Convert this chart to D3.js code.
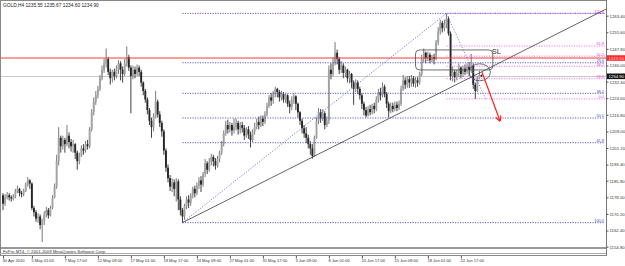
<!DOCTYPE html>
<html>
<head>
<meta charset="utf-8">
<script src="https://cdn.jsdelivr.net/npm/d3@7"></script>
<style>
body { margin: 0; background: #fff; }
text { font-family: "Liberation Sans", Arial, sans-serif; }
</style>
</head>
<body>
<svg id="chart" width="625" height="266"></svg>
<script>
const width = 625;
const height = 266;

// GOLD H4, 30 Apr 2010 17:00 onwards; open of each bar = previous close
const firstOpen = 1179;
const closes = [
	1175, 1178, 1179, 1178, 1177.5, 1178.5, 1181, 1182, 1180, 1179.5,
	1181, 1184, 1186, 1184.5, 1173, 1171, 1168, 1169, 1165, 1167,
	1170, 1172, 1169.5, 1173, 1178, 1183, 1195, 1206, 1202, 1205,
	1203, 1207, 1204, 1202, 1203, 1199, 1195, 1198, 1201, 1200,
	1203, 1202, 1210, 1218, 1223, 1226, 1229, 1234, 1238, 1241,
	1243, 1237, 1234, 1237, 1235, 1238, 1241, 1238, 1236, 1241,
	1244, 1239, 1235, 1238, 1236, 1239, 1237, 1232, 1228, 1224,
	1219, 1214, 1211, 1216, 1223, 1217, 1213, 1209, 1200, 1192,
	1187, 1183, 1185, 1182, 1185.5, 1177, 1172, 1169, 1174, 1177,
	1175.5, 1179, 1182, 1180, 1183.5, 1186, 1184, 1189, 1194, 1191,
	1194.5, 1197, 1195, 1193, 1196, 1199, 1203, 1208, 1212, 1210,
	1212, 1209.5, 1211, 1213, 1210, 1212, 1210.5, 1207, 1210, 1207.5,
	1205, 1209, 1211, 1213.5, 1212, 1215, 1213.5, 1217, 1221, 1225,
	1223.5, 1226.5, 1229, 1227.5, 1225, 1226.5, 1224, 1226, 1222, 1220.5,
	1224, 1225.5, 1222, 1218, 1214, 1210.5, 1208, 1206, 1203, 1201,
	1197.5, 1206, 1214, 1218, 1215, 1217.5, 1212, 1214, 1238, 1236,
	1241, 1246, 1243, 1238, 1240, 1236.5, 1238, 1234, 1236, 1232,
	1229, 1232, 1229, 1226, 1222, 1219, 1216.5, 1219.5, 1218, 1221,
	1219.5, 1224, 1227.5, 1226, 1230, 1226.5, 1222, 1218.5, 1221, 1219.5,
	1221.5, 1220, 1222, 1229, 1233, 1231, 1233.5, 1232, 1234, 1231.5,
	1233, 1232, 1236, 1243, 1246, 1243.5, 1245, 1242.5, 1244, 1243,
	1251, 1256, 1260, 1257.5, 1259.5, 1262, 1255, 1235, 1237, 1234.5,
	1236.5, 1239, 1236, 1238.5, 1237, 1239.5, 1238, 1240, 1231, 1228,
	1234, 1235.55, 1234.90
];
const highs = [
	1180, 1179.5, 1180.5, 1180, 1179, 1179.5, 1182, 1183.5, 1182.5, 1181,
	1182, 1185, 1187.5, 1186.5, 1185, 1174, 1172, 1170.5, 1170, 1168,
	1171.5, 1173.5, 1173, 1174, 1179, 1184.5, 1198, 1211, 1207, 1207,
	1206, 1212, 1208.5, 1205.5, 1205, 1203.5, 1200, 1199, 1202.5, 1203,
	1204.5, 1205, 1211, 1219.5, 1225, 1228, 1230.5, 1235.5, 1240, 1243,
	1248, 1244, 1238.5, 1238, 1238.5, 1240, 1242.5, 1242, 1239.5, 1243,
	1249, 1245, 1240, 1240, 1239.5, 1240.5, 1240, 1238, 1232.5, 1229,
	1225, 1220, 1215.5, 1217.5, 1228, 1224, 1218.5, 1214, 1210, 1201,
	1193.5, 1188.5, 1187, 1186.5, 1187, 1186.5, 1178.5, 1173, 1175, 1178.5,
	1179, 1180, 1183, 1183.5, 1185, 1187.5, 1188, 1190, 1196, 1195,
	1196.5, 1198.5, 1198, 1196.5, 1197.5, 1200, 1204.5, 1209.5, 1214, 1214.5,
	1213.5, 1213, 1215, 1215, 1214, 1213.5, 1213.5, 1212, 1211, 1211.5,
	1209, 1210, 1213, 1215, 1216, 1216.5, 1216.5, 1218.5, 1222.5, 1226,
	1227, 1228, 1230, 1229.5, 1228.5, 1228, 1227.5, 1227, 1226.5, 1223.5,
	1225.5, 1227, 1226, 1222.5, 1218.5, 1215, 1212, 1211, 1207.5, 1204.5,
	1203, 1207, 1215.5, 1220, 1219.5, 1219.5, 1218.5, 1216, 1240, 1241,
	1244, 1251, 1247.5, 1244, 1242, 1241, 1239.5, 1238.5, 1237.5, 1236.5,
	1233, 1233.5, 1233, 1230, 1227, 1223, 1220.5, 1221, 1221.5, 1222,
	1222.5, 1225.5, 1229, 1229.5, 1232, 1231, 1227.5, 1223, 1222.5, 1222.5,
	1223, 1223, 1223.5, 1230.5, 1235.5, 1234.5, 1235, 1235, 1235.5, 1235,
	1234.5, 1234.5, 1237, 1245, 1248, 1246.5, 1246.5, 1246, 1245, 1245.5,
	1252, 1258, 1261.5, 1261, 1261.5, 1264.5, 1263, 1256, 1239.5, 1238,
	1238, 1241, 1239.5, 1240, 1240.5, 1241, 1241.5, 1245.5, 1241, 1232,
	1235, 1237.5, 1235.67
];
const lows = [
	1172, 1174, 1177, 1176.5, 1176, 1176.5, 1177.5, 1180, 1178.5, 1178,
	1178.5, 1180.5, 1183, 1182, 1172, 1169, 1166.5, 1166, 1163, 1157,
	1165, 1168.5, 1168, 1169, 1172.5, 1177.5, 1182, 1193, 1199, 1200.5,
	1199, 1202, 1201, 1199.5, 1199, 1196, 1191, 1193.5, 1197, 1198,
	1199, 1200.5, 1201, 1209, 1216.5, 1221.5, 1224.5, 1228, 1233, 1236.5,
	1239, 1235.5, 1231, 1232, 1233, 1234, 1236, 1233, 1232, 1235,
	1239.5, 1237.5, 1217.5, 1233.5, 1234, 1235, 1235, 1230, 1226, 1222.5,
	1217, 1212, 1206, 1209, 1215, 1215.5, 1211, 1206.5, 1198, 1190,
	1185, 1181, 1180.5, 1178.5, 1176, 1172, 1169.5, 1166.1, 1167.5, 1172.5,
	1173, 1174, 1177.5, 1178, 1179, 1182, 1180.5, 1183, 1187.5, 1189,
	1190, 1193, 1192.5, 1191, 1192, 1194.5, 1198, 1202, 1207, 1208,
	1208.5, 1207, 1208, 1209.5, 1207.5, 1208, 1208.5, 1205, 1206, 1205.5,
	1201.5, 1204, 1207.5, 1210, 1210, 1211, 1211.5, 1212.5, 1216, 1220,
	1221, 1222, 1225, 1225, 1223, 1223.5, 1222.5, 1222.5, 1220.5, 1217.5,
	1219, 1222, 1219, 1215.5, 1212, 1208, 1206, 1203.5, 1201, 1198,
	1196.2, 1197, 1205.5, 1212.5, 1213, 1214, 1210, 1211, 1212.5, 1233.5,
	1235, 1240, 1240.5, 1236, 1236.5, 1234, 1234.5, 1232, 1231.5, 1229.5,
	1221.5, 1227.5, 1226.5, 1224, 1219.5, 1216.5, 1215.5, 1216, 1216.5, 1217,
	1217.5, 1218.5, 1222.5, 1223.5, 1225, 1225, 1220, 1215.5, 1217.5, 1218,
	1218.5, 1218.5, 1219, 1221, 1228, 1229, 1229.5, 1229.5, 1230, 1230,
	1229.5, 1230, 1231, 1235, 1241.5, 1241, 1242, 1241, 1241.5, 1240.5,
	1242.5, 1249.5, 1254.5, 1255.5, 1256, 1257.5, 1254, 1233, 1232.5, 1232,
	1233, 1234.5, 1234, 1234.5, 1235.5, 1236, 1235, 1236.5, 1229, 1224.3,
	1227.5, 1233.5, 1234.60
];

const priceTicks = [1263.40, 1255.60, 1247.80, 1240.00, 1232.40, 1224.60, 1216.80,
	1209.00, 1201.20, 1193.40, 1185.80, 1178.00, 1170.20, 1162.40, 1154.80];
const timeTickBars = [0, 14, 30, 46, 62, 78, 94, 110, 126, 142, 158, 174, 190, 206, 222];
const timeTickLabels = ["30 Apr 2010", "5 May 01:00", "7 May 17:00", "12 May 09:00",
	"17 May 01:00", "19 May 17:00", "24 May 09:00", "27 May 01:00", "31 May 17:00",
	"3 Jun 09:00", "8 Jun 01:00", "10 Jun 17:00", "15 Jun 09:00", "18 Jun 01:00", "22 Jun 17:00"];

// objects drawn on the chart (bar index, price)
const fibLevels = [0, 23.6, 38.2, 50, 61.8, 100];
const fibLabels = ["0.0", "23.6", "38.2", "50.0", "61.8", "100.0"];
const blueFib = { startBar: 87, endBar: 215, price0: 1264.5, price100: 1166.1 };
const pinkFib = { startBar: 215, endBar: 234, price0: 1224.3, price100: 1264.5 };
const trendLine = [[87, 1166.1], [293, 1266.8]];
const resistancePrice = 1243.50;
const bidPrice = 1234.90;
const slBox = { bar0: 200, bar1: 237.5, priceTop: 1247.3, priceBottom: 1237.9 };
const circleMark = { bar0: 226, bar1: 236.3, priceTop: 1240.8, priceBottom: 1232.8 };
const arrowLine = [[232.2, 1236.9], [241, 1213.9]];

const plot = { left: 1, right: 606, top: 1, bottom: 247 };

const svg = d3.select("#chart")
	.attr("viewBox", `0 0 ${width} ${height}`);

svg.append("rect").attr("width", width).attr("height", height).attr("fill", "#fff");

const x = d3.scaleLinear()
	.domain([0, 293])
	.range([3, 3 + 293 * 2.0625]);

const y = d3.scaleLinear()
	.domain([1154.8, 1263.4])
	.range([246.7, 15.7]);

svg.append("defs").append("clipPath")
	.attr("id", "plot-clip")
	.append("rect")
	.attr("x", plot.left)
	.attr("y", plot.top)
	.attr("width", plot.right - plot.left)
	.attr("height", plot.bottom - plot.top);

const bars = closes.map((c, i) => ({
	i,
	open: i === 0 ? firstOpen : closes[i - 1],
	close: c,
	high: highs[i],
	low: lows[i]
}));

const chart = svg.append("g").attr("clip-path", "url(#plot-clip)");

// bid line
chart.append("line")
	.attr("x1", plot.left).attr("x2", plot.right)
	.attr("y1", Math.round(y(bidPrice)) + 0.5).attr("y2", Math.round(y(bidPrice)) + 0.5)
	.attr("stroke", "#c8c8c8")
	.attr("stroke-width", 1);

// candles
const candle = chart.append("g").selectAll("g")
	.data(bars)
	.join("g");

candle.append("line")
	.attr("x1", (d) => x(d.i)).attr("x2", (d) => x(d.i))
	.attr("y1", (d) => y(d.high)).attr("y2", (d) => y(d.low))
	.attr("stroke", (d) => d.close >= d.open ? "#6a6a6a" : "#2a2a2a")
	.attr("stroke-width", 0.9);

candle.append("rect")
	.attr("x", (d) => x(d.i) - 0.95)
	.attr("width", 1.9)
	.attr("y", (d) => y(Math.max(d.open, d.close)))
	.attr("height", (d) => Math.max(0.9, Math.abs(y(d.open) - y(d.close))))
	.attr("fill", (d) => d.close >= d.open ? "#a2a2a2" : "#262626");

// red horizontal line
chart.append("line")
	.attr("x1", plot.left).attr("x2", plot.right)
	.attr("y1", y(resistancePrice)).attr("y2", y(resistancePrice))
	.attr("stroke", "#ff3a3a")
	.attr("stroke-width", 1);

function drawFib(fib, lineColor, diagColor, labelColor, hiddenLabels) {
	const g = chart.append("g");
	const levelPrice = (lvl) => fib.price0 + (fib.price100 - fib.price0) * lvl / 100;
	const lowBar = fib.price100 < fib.price0 ? fib.startBar : fib.endBar;
	const highBar = lowBar === fib.startBar ? fib.endBar : fib.startBar;

	g.append("line")
		.attr("x1", x(lowBar)).attr("y1", y(Math.min(fib.price0, fib.price100)))
		.attr("x2", x(highBar)).attr("y2", y(Math.max(fib.price0, fib.price100)))
		.attr("stroke", diagColor)
		.attr("stroke-width", 0.9)
		.attr("stroke-dasharray", "1.2,1.6");

	g.selectAll(".lvl")
		.data(fibLevels)
		.join("line")
		.attr("x1", x(Math.min(fib.startBar, fib.endBar)))
		.attr("x2", plot.right - 1)
		.attr("y1", (d) => y(levelPrice(d)))
		.attr("y2", (d) => y(levelPrice(d)))
		.attr("stroke", lineColor)
		.attr("stroke-width", 0.9)
		.attr("stroke-dasharray", "1.2,1.3");

	g.selectAll("text")
		.data(fibLevels.filter((d) => !hiddenLabels.includes(d)))
		.join("text")
		.attr("x", 604)
		.attr("y", (d) => y(levelPrice(d)) - 0.6)
		.attr("text-anchor", "end")
		.attr("font-size", 3.9)
		.attr("fill", labelColor)
		.text((d) => fibLabels[fibLevels.indexOf(d)]);
}

// the blue 0.0 label sits under the pink 100.0 one
drawFib(blueFib, "#4a4ab8", "#6a6ad8", "#4a4ab8", [0]);
drawFib(pinkFib, "#ec6cec", "#7a7ad8", "#d84cd8", []);

// trend line
chart.append("line")
	.attr("x1", x(trendLine[0][0])).attr("y1", y(trendLine[0][1]))
	.attr("x2", x(trendLine[1][0])).attr("y2", y(trendLine[1][1]))
	.attr("stroke", "#3c3c3c")
	.attr("stroke-width", 0.8);

// SL box
chart.append("rect")
	.attr("x", x(slBox.bar0))
	.attr("y", y(slBox.priceTop))
	.attr("width", x(slBox.bar1) - x(slBox.bar0))
	.attr("height", y(slBox.priceBottom) - y(slBox.priceTop))
	.attr("rx", 4)
	.attr("fill", "none")
	.attr("stroke", "#4a4a4a")
	.attr("stroke-width", 0.8);

chart.append("text")
	.attr("x", x(slBox.bar1) - 1)
	.attr("y", y(slBox.priceTop) + 4.5)
	.attr("font-family", "Liberation Serif, serif")
	.attr("font-size", 7.5)
	.attr("fill", "#333")
	.text("SL");

chart.append("ellipse")
	.attr("cx", (x(circleMark.bar0) + x(circleMark.bar1)) / 2)
	.attr("cy", (y(circleMark.priceTop) + y(circleMark.priceBottom)) / 2)
	.attr("rx", (x(circleMark.bar1) - x(circleMark.bar0)) / 2)
	.attr("ry", (y(circleMark.priceBottom) - y(circleMark.priceTop)) / 2)
	.attr("fill", "none")
	.attr("stroke", "#4a4a4a")
	.attr("stroke-width", 0.8);

// red arrow
svg.append("defs").append("marker")
	.attr("id", "arrow-head")
	.attr("viewBox", "0 0 10 10")
	.attr("refX", 9).attr("refY", 5)
	.attr("markerWidth", 5).attr("markerHeight", 5)
	.attr("orient", "auto")
	.append("path")
	.attr("d", "M0,0 L10,5 L0,10")
	.attr("fill", "none")
	.attr("stroke", "#ff2020")
	.attr("stroke-width", 2);

chart.append("line")
	.attr("x1", x(arrowLine[0][0])).attr("y1", y(arrowLine[0][1]))
	.attr("x2", x(arrowLine[1][0])).attr("y2", y(arrowLine[1][1]))
	.attr("stroke", "#ff2020")
	.attr("stroke-width", 1.2)
	.attr("marker-end", "url(#arrow-head)");

// frame
svg.append("line").attr("x1", 0.5).attr("x2", 0.5).attr("y1", 0).attr("y2", 256).attr("stroke", "#888");
svg.append("line").attr("x1", 0).attr("x2", 606).attr("y1", 0.5).attr("y2", 0.5).attr("stroke", "#888");
svg.append("line").attr("x1", 606.5).attr("x2", 606.5).attr("y1", 0).attr("y2", 256).attr("stroke", "#777");
svg.append("line").attr("x1", 0).attr("x2", 606).attr("y1", 248).attr("y2", 248).attr("stroke", "#777").attr("stroke-width", 1.6);
svg.append("line").attr("x1", 0).attr("x2", 606).attr("y1", 253.5).attr("y2", 253.5).attr("stroke", "#aaa");
svg.append("line").attr("x1", 0).attr("x2", 606).attr("y1", 255.5).attr("y2", 255.5).attr("stroke", "#888");

svg.append("text")
	.attr("x", 3).attr("y", 252.6)
	.attr("font-size", 4.3)
	.attr("fill", "#333")
	.text("FxPro MT4, © 2001-2009 MetaQuotes Software Corp.");

svg.append("text")
	.attr("x", 3).attr("y", 7)
	.attr("font-size", 4.8)
	.attr("fill", "#222")
	.text("GOLD,H4  1235.55 1235.67 1234.60 1234.90");

// price axis
const yAxis = svg.append("g")
	.attr("transform", "translate(606.5,0)")
	.call(d3.axisRight(y).tickValues(priceTicks).tickFormat(d3.format(".2f")).tickSize(2).tickPadding(1));
yAxis.select(".domain").remove();
yAxis.selectAll("line").attr("stroke", "#555");
yAxis.selectAll("text").attr("font-size", 4.3).attr("fill", "#333").attr("font-family", null);

// price labels on the axis
[[resistancePrice, "#ff2a2a", "#ffd0d0"], [bidPrice, "#111", "#fff"]].forEach(([p, bg, fg]) => {
	svg.append("rect")
		.attr("x", 607).attr("y", y(p) - 2.8)
		.attr("width", 18).attr("height", 5.6)
		.attr("fill", bg);
	svg.append("text")
		.attr("x", 608.5).attr("y", y(p) + 1.6)
		.attr("font-size", 4.3)
		.attr("fill", fg)
		.text(d3.format(".2f")(p));
});

// time axis
const xAxis = svg.append("g")
	.attr("transform", "translate(0,256)")
	.call(d3.axisBottom(x).tickValues(timeTickBars).tickFormat((d, i) => timeTickLabels[i]).tickSize(2.5).tickPadding(1));
xAxis.select(".domain").remove();
xAxis.selectAll("line").attr("stroke", "#555");
xAxis.selectAll("text")
	.attr("text-anchor", "start")
	.attr("dx", -1)
	.attr("font-size", 4.1)
	.attr("fill", "#333")
	.attr("font-family", null);
</script>
</body>
</html>
